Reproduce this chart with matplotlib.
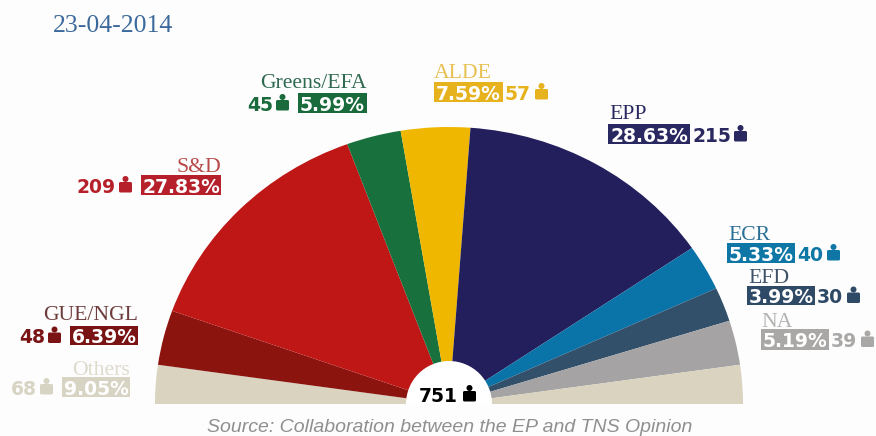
import matplotlib
matplotlib.use("Agg")
import matplotlib.pyplot as plt
from matplotlib.patches import Ellipse, FancyBboxPatch, Rectangle

W, H = 876, 436
BG = "#fdfdfd"

# --- data -----------------------------------------------------------------
groups = ["Others", "GUE/NGL", "S&D", "Greens/EFA", "ALDE", "EPP", "ECR", "EFD", "NA"]
shares = [9.05, 6.39, 27.83, 5.99, 7.59, 28.63, 5.33, 3.99, 5.19]
seats = [68, 48, 209, 45, 57, 215, 40, 30, 39]
date_label = "23-04-2014"
source_label = "Source: Collaboration between the EP and TNS Opinion"

# --- styles ---------------------------------------------------------------
wedge_colors = ["#d9d3bf", "#8c140f", "#bf1616", "#18703c", "#efb700",
                "#231f5c", "#0a73a8", "#33506b", "#a5a3a3"]
badge_colors = ["#d8d4c4", "#7a1414", "#b5202a", "#1a6b3c", "#e6b21e",
                "#2a2860", "#0e77a6", "#2f4a66", "#aaa8a6"]
name_colors = ["#dedbcc", "#6d3b3b", "#b84a4a", "#2f6a50", "#e8c050",
               "#2a2860", "#2a6f98", "#3f5268", "#b5b3b1"]

# layout per group: name anchor x, name y, badge x0, x1, y0, y1, seat side
layout = {
    "Others":     dict(nx=130, ny=368, ha="right", b=(62, 130, 377, 397), side="left"),
    "GUE/NGL":    dict(nx=138, ny=313, ha="right", b=(70, 138, 326, 345), side="left"),
    "S&D":        dict(nx=221, ny=165, ha="right", b=(141, 221, 175, 195), side="left"),
    "Greens/EFA": dict(nx=367, ny=81,  ha="right", b=(298, 367, 93, 113), side="left"),
    "ALDE":       dict(nx=434, ny=71,  ha="left",  b=(434, 503, 82, 102), side="right"),
    "EPP":        dict(nx=609, ny=112, ha="left",  b=(608, 690, 124, 144), side="right"),
    "ECR":        dict(nx=728, ny=233, ha="left",  b=(727, 795, 243, 263), side="right"),
    "EFD":        dict(nx=748, ny=276, ha="left",  b=(747, 815, 286, 305), side="right"),
    "NA":         dict(nx=761, ny=320, ha="left",  b=(761, 829, 329, 350), side="right"),
}

SANS_BOLD = dict(family="DejaVu Sans", fontweight="bold", fontsize=13.5)
SERIF = "Liberation Serif"

fig = plt.figure(figsize=(W / 100, H / 100), dpi=100, facecolor=BG)

# --- semicircle -----------------------------------------------------------
left, right, base, top = 155, 743, 404, 127
ax = fig.add_axes([left / W, 1 - base / H, (right - left) / W, (base - top) / H])
half = shares[0] / 2
values = [half] + shares[1:] + [half, sum(shares)]
colors = wedge_colors + [wedge_colors[0], "none"]
wedges, _ = ax.pie(values, colors=colors, startangle=180, counterclock=False,
                   radius=1, wedgeprops=dict(linewidth=0))
wedges[-1].set_visible(False)
ax.set_aspect("auto")
ax.set_xlim(-1, 1)
ax.set_ylim(0, 1)
ax.axis("off")
ax.add_patch(Ellipse((0, 0), 2 * 43 / ((right - left) / 2), 2 * 43 / (base - top),
                     facecolor="white", edgecolor="none", zorder=5))

# --- overlay in pixel coordinates ------------------------------------------
ov = fig.add_axes([0, 0, 1, 1], facecolor="none")
ov.set_xlim(0, W)
ov.set_ylim(H, 0)
ov.axis("off")


def person(x0, cy, color):
    """Small person glyph, x0 = left edge, cy = vertical centre."""
    w = 13
    ov.add_patch(Ellipse((x0 + w / 2, cy - 6), 6, 6, facecolor=color, edgecolor="none"))
    ov.add_patch(FancyBboxPatch((x0 + 0.5, cy - 2.5), w - 1, 9.5,
                                boxstyle="round,pad=0.5,rounding_size=1.5",
                                facecolor=color, edgecolor="none"))


for name, share, seat, bc, nc in zip(groups, shares, seats, badge_colors, name_colors):
    L = layout[name]
    x0, x1, y0, y1 = L["b"]
    cy = (y0 + y1) / 2
    ov.add_patch(Rectangle((x0, y0), x1 - x0, y1 - y0, facecolor=bc, edgecolor="none"))
    ov.text((x0 + x1) / 2, cy, f"{share:.2f}%", color="white", ha="center",
            va="center_baseline", **SANS_BOLD)
    ov.text(L["nx"], L["ny"], name, color=nc, ha=L["ha"], va="center_baseline",
            family=SERIF, fontsize=15.6)
    if L["side"] == "left":
        ov.text(x0 - 25, cy, str(seat), color=bc, ha="right", va="center_baseline", **SANS_BOLD)
        person(x0 - 22, cy, bc)
    else:
        ov.text(x1 + 2, cy, str(seat), color=bc, ha="left", va="center_baseline", **SANS_BOLD)
        n = len(str(seat))
        person(x1 + 2 + (26 if n == 2 else 38) + 4, cy, bc)

# total in the hub
ov.text(458, 394, str(sum(seats)), color="black", ha="right", va="center_baseline", **SANS_BOLD)
person(463, 394, "black")

# header and source
ov.text(53, 26, date_label, color="#3d6a9c", ha="left", va="center", family=SERIF, fontsize=18.5)
ov.text(450, 427, source_label, color="#8f8f8f", ha="center", va="center",
        family="Liberation Sans", style="italic", fontsize=14)

fig.savefig("out.png", dpi=100, facecolor=BG)
